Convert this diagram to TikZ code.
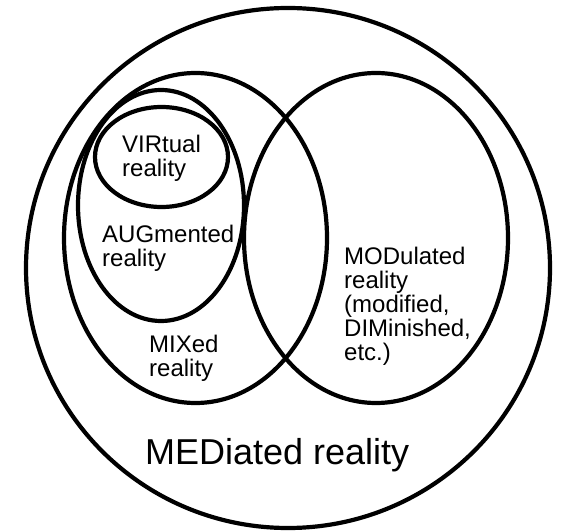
\documentclass[tikz,border=0pt]{standalone}
\usepackage{fontspec}
\setmainfont{Liberation Sans}
\begin{document}
\begin{tikzpicture}[x=1pt,y=1pt,
  ring/.style={draw=black,line width=4.2pt},
  lab/.style={anchor=north west,inner sep=0pt,align=left,
    font=\fontsize{24}{24}\selectfont},
  biglab/.style={anchor=base west,inner sep=0pt,
    font=\fontsize{36}{40}\selectfont}]
\useasboundingbox (0,0) rectangle (586,530);
\fill[white] (0,0) rectangle (586,530);
% ellipses
\draw[ring] (288,262) ellipse [x radius=262, y radius=260];
\draw[ring] (195.5,292) ellipse [x radius=131.5, y radius=165];
\draw[ring] (376,292) ellipse [x radius=132, y radius=165];
\draw[ring] (161,324.5) ellipse [x radius=83, y radius=115.5];
\draw[ring] (161.5,373) ellipse [x radius=66.5, y radius=50];
% labels
\node[lab] (vir) at (122,395) {VIRtual\\reality};
\node[lab] (aug) at (102,305) {AUGmented\\reality};
\node[lab] (mix) at (149,195) {MIXed\\reality};
\node[lab] (mod) at (344,283) {MODulated\\reality\\(modified,\\DIMinished,\\etc.)};
\node[biglab] (med) at (145,66) {MEDiated reality};
\end{tikzpicture}
\end{document}
